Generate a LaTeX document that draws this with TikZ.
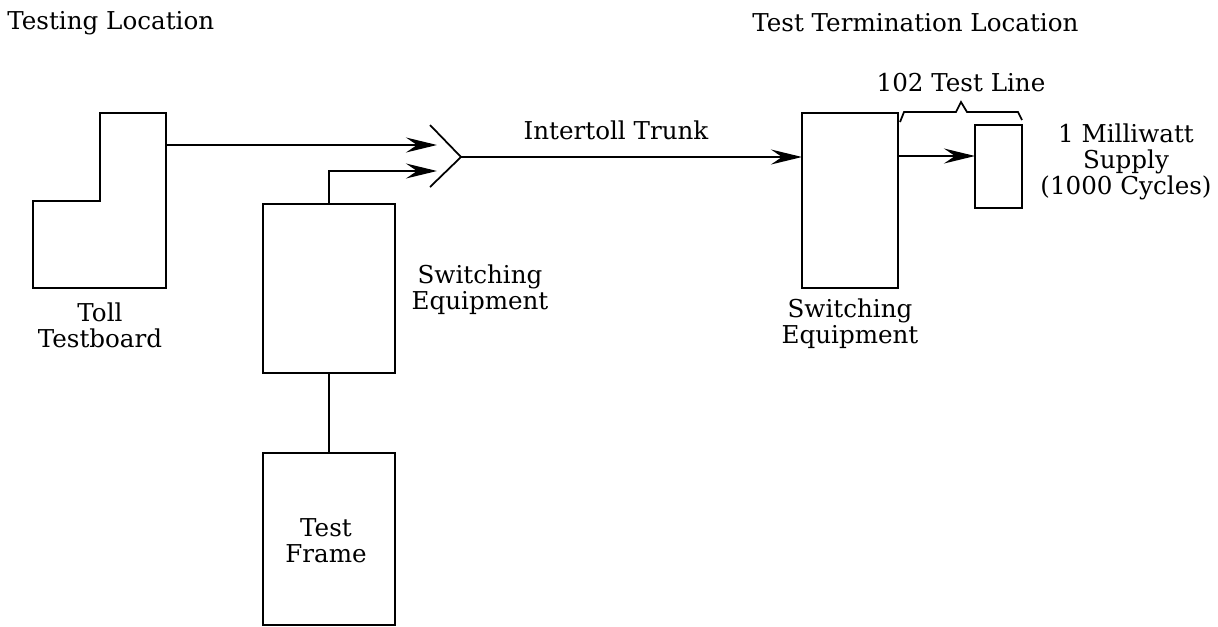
\documentclass[tikz,border=0pt]{standalone}
\usepackage{fontspec}
\setmainfont{DejaVu Serif}
\usetikzlibrary{arrows.meta}

\begin{document}
\begin{tikzpicture}[
  x=0.02cm, y=-0.02cm,
  box/.style={draw, line width=1.1pt, inner sep=0pt, outer sep=0pt},
  lbl/.style={align=center, inner sep=0pt},
  wire/.style={line width=1pt},
  arr/.style={wire, -{Stealth[length=0.62cm, width=0.3cm, inset=0.22cm]}},
  every node/.style={font=\fontsize{14}{14.8}\selectfont}
]
  \useasboundingbox (0,0) rectangle (1218,626);

  % location headings
  \node[lbl, anchor=west] (testing) at (7,23) {Testing Location};
  \node[lbl, anchor=west] (termination) at (752,23) {Test Termination Location};

  % toll testboard (stepped outline)
  \draw[line width=1.1pt] (33,201) -- (100,201) -- (100,113) -- (166,113)
    -- (166,288) -- (33,288) -- cycle;
  \coordinate (board) at (166,145);
  \node[lbl] (boardtext) at (100,325) {Toll\\Testboard};

  % boxes
  \node[box, minimum width=2.64cm, minimum height=3.38cm] (switchA) at (329,288.5) {};
  \node[box, minimum width=2.64cm, minimum height=3.44cm] (frame) at (329,539) {};
  \node[box, minimum width=1.92cm, minimum height=3.5cm] (switchB) at (850,200.5) {};
  \node[box, minimum width=0.94cm, minimum height=1.66cm] (supply) at (998.5,166.5) {};

  \node[lbl] (switchAtext) at (480,290) {Switching\\Equipment};
  \node[lbl] (frametext) at (326,541) {Test\\Frame};
  \node[lbl] (switchBtext) at (850,324) {Switching\\Equipment};
  \node[lbl] (supplytext) at (1126,162) {1 Milliwatt\\Supply\\(1000 Cycles)};

  % fork joining the two circuits to the trunk
  \coordinate (inA) at (437,145);
  \coordinate (inB) at (437,171);
  \coordinate (armA) at (430,125);
  \coordinate (armB) at (430,187);
  \coordinate (fork) at (461,157);
  \draw[wire] (armA) -- (fork) -- (armB);

  \draw[arr] (board) -- (inA);
  \draw[arr] (switchA.north) |- (inB);
  \draw[wire] (switchA.south) -- (frame.north);

  \draw[arr] (fork) -- (fork -| switchB.west);
  \node[lbl] (trunk) at (616,130) {Intertoll Trunk};

  \coordinate (line) at (898,156);
  \draw[arr] (line) -- (line -| supply.west);

  % bracket over the test line
  \draw[wire] (900,122) -- (904,112) -- (956,112) -- (961,102) -- (967,112)
    -- (1018,112) -- (1022,120);
  \node[lbl] (testline) at (961,83) {102 Test Line};
\end{tikzpicture}
\end{document}
